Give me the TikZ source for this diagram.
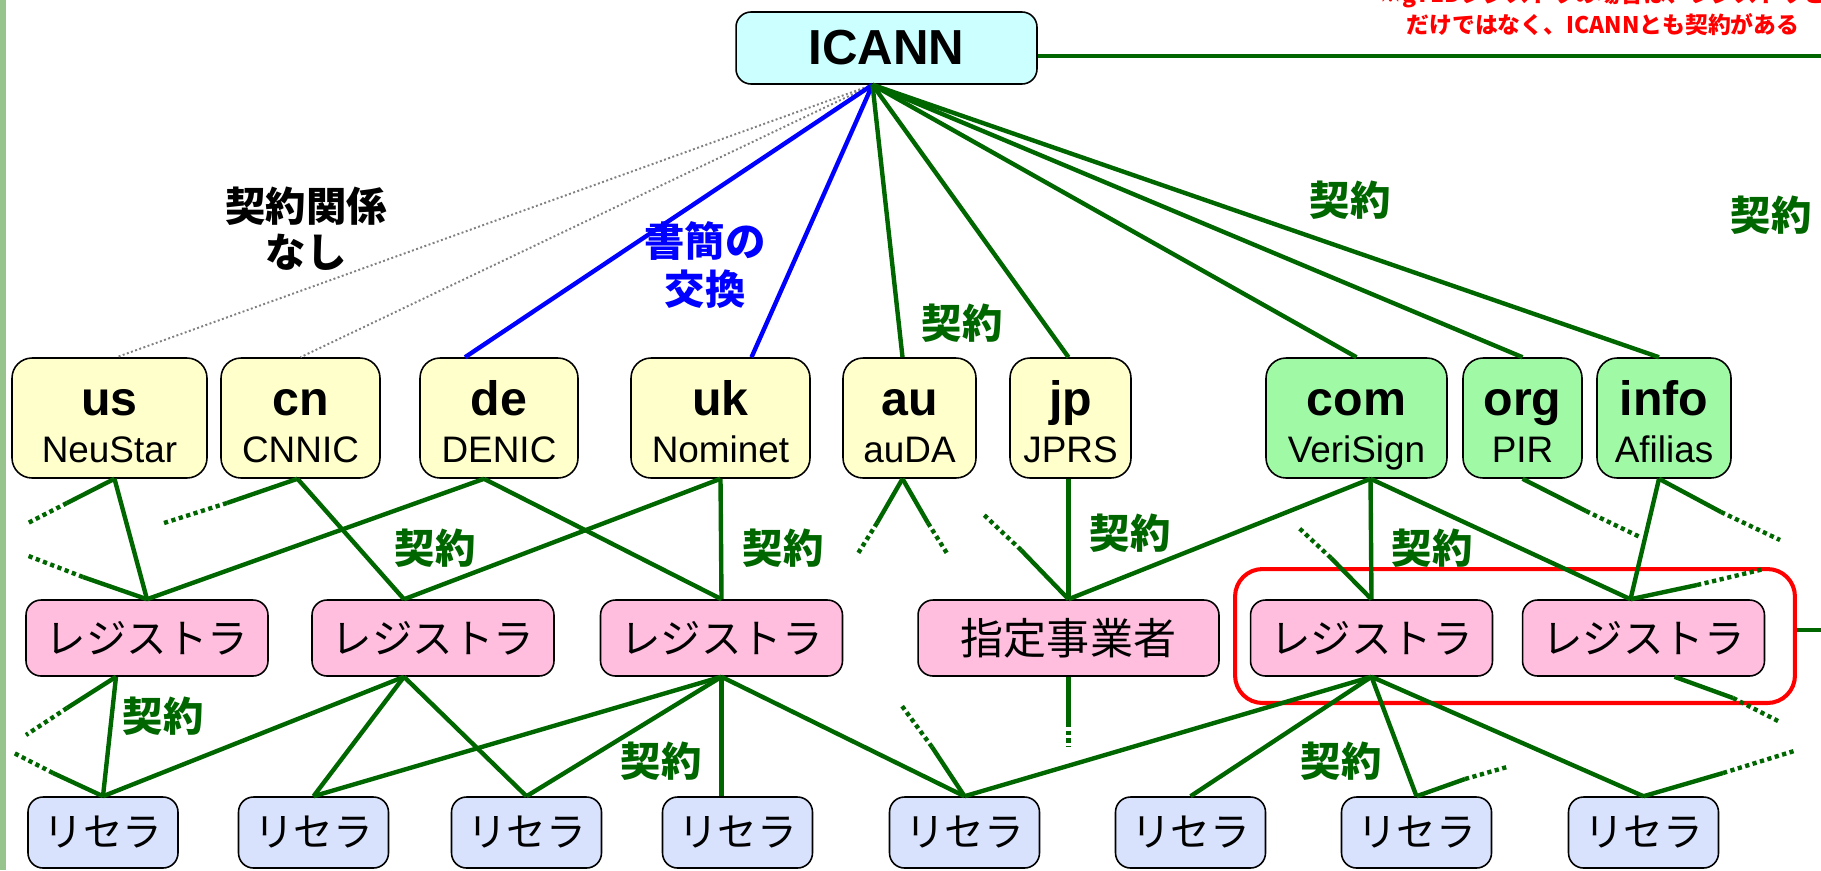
\documentclass[tikz,border=0pt]{standalone}
\usepackage{fontspec}
\setmainfont{Liberation Sans}
\newfontfamily\jp{Noto Sans CJK JP}
\usetikzlibrary{calc}
\definecolor{dgreen}{RGB}{0,102,0}
\definecolor{icannfill}{RGB}{204,255,255}
\definecolor{ccfill}{RGB}{255,255,204}
\definecolor{gfill}{RGB}{160,250,165}
\definecolor{regfill}{RGB}{255,190,222}
\definecolor{resfill}{RGB}{216,226,252}
\definecolor{stripe}{RGB}{150,196,140}
\newcommand\stub[3]{\draw[gline] (#1) -- (#2); \draw[gdot] (#2) -- (#3);}
\begin{document}
\begin{tikzpicture}[x=0.02cm, y=-0.02cm,
  box/.style={draw=black, line width=0.9pt, inner sep=0pt, rounded corners=0.3cm},
  tldbox/.style={box, rounded corners=0.4cm, minimum height=2.4cm},
  regbox/.style={box, fill=regfill, minimum height=1.52cm, minimum width=4.84cm, font=\jp\fontsize{23}{27}\selectfont},
  resbox/.style={box, fill=resfill, minimum height=1.42cm, minimum width=3.0cm, font=\jp\fontsize{22.5}{26}\selectfont},
  tldname/.style={font=\bfseries\fontsize{27.5}{30}\selectfont, inner sep=0pt, anchor=base},
  tldsub/.style={font=\fontsize{21}{24}\selectfont, inner sep=0pt, anchor=base},
  gline/.style={draw=dgreen, line width=2.5pt},
  gdot/.style={draw=dgreen, line width=2.5pt, dash pattern=on 2.4pt off 2pt},
  bline/.style={draw=blue, line width=2.5pt},
  nline/.style={draw=gray, line width=1.1pt, dash pattern=on 1.1pt off 1.4pt},
  lbl/.style={font=\jp\bfseries\fontsize{23}{27}\selectfont, text=dgreen, inner sep=0pt, align=center},
]
\useasboundingbox (0,0) rectangle (1821,870);
\fill[stripe] (0,0) rectangle (6,870);

% red note
\node[font=\jp\bfseries\fontsize{13}{15}\selectfont, text=red, inner sep=0pt] (note1) at (1603,-5) {※gTLDレジストラの場合は、レジストリと};
\node[font=\jp\bfseries\fontsize{13}{15}\selectfont, text=red, inner sep=0pt] (note2) at (1603,25) {だけではなく、ICANNとも契約がある};

% ICANN
\node[box, fill=icannfill, minimum width=6.02cm, minimum height=1.44cm, font=\bfseries\fontsize{28}{30}\selectfont] (icann) at (886.5,48) {ICANN};

% red box
\node[draw=red, line width=2.3pt, rounded corners=0.55cm, minimum width=11.2cm, minimum height=2.68cm, inner sep=0pt] (redbox) at (1515,636) {};

% TLD registries
\foreach \n/\cx/\w/\a/\b/\f in {us/109.5/3.9/us/NeuStar/ccfill, cn/300.5/3.18/cn/CNNIC/ccfill, de/499/3.16/de/DENIC/ccfill, uk/720.5/3.58/uk/Nominet/ccfill, au/909.5/2.66/au/auDA/ccfill, jp/1070.5/2.42/jp/JPRS/ccfill, com/1356.5/3.62/com/VeriSign/gfill, org/1522.5/2.38/org/PIR/gfill, info/1664/2.68/info/Afilias/gfill}
{
  \node[tldbox, fill=\f, minimum width=\w cm] (\n) at (\cx,418) {};
  \node[tldname] (\n-a) at (\cx,415) {\a};
  \node[tldsub] (\n-b) at (\cx,462) {\b};
}

% registrars
\node[regbox] (r1) at (147,638) {レジストラ};
\node[regbox] (r2) at (433,638) {レジストラ};
\node[regbox] (r3) at (721.5,638) {レジストラ};
\node[regbox, minimum width=6.02cm, font=\jp\fontsize{24.5}{28}\selectfont] (sj) at (1068.5,638) {指定事業者};
\node[regbox] (r4) at (1371.5,638) {レジストラ};
\node[regbox] (r5) at (1643.5,638) {レジストラ};

% resellers
\foreach \n/\cx in {l1/103, l2/313.5, l3/526.5, l4/737.5, l5/964.5, l6/1190.5, l7/1416.5, l8/1643.5}
  \node[resbox] (\n) at (\cx,832.5) {リセラ};

% connection points
\coordinate (apex) at ($(icann.south)+(-14,0)$);
\coordinate (usT) at ($(us.north)+(7,0)$);
\coordinate (usB) at ($(us.south)+(5,0)$);
\coordinate (cnT) at (cn.north);
\coordinate (cnB) at ($(cn.south)+(-3,0)$);
\coordinate (deT) at ($(de.north)+(-34,0)$);
\coordinate (deB) at ($(de.south)+(-15,0)$);
\coordinate (ukT) at ($(uk.north)+(31,0)$);
\coordinate (ukB) at (uk.south);
\coordinate (auT) at ($(au.north)+(-7,0)$);
\coordinate (auB) at ($(au.south)+(-7,0)$);
\coordinate (jpT) at ($(jp.north)+(-2,0)$);
\coordinate (jpB) at ($(jp.south)+(-2,0)$);
\coordinate (comT) at (com.north);
\coordinate (comB) at ($(com.south)+(14,0)$);
\coordinate (orgT) at (org.north);
\coordinate (orgB) at (org.south);
\coordinate (infoT) at ($(info.north)+(-5,0)$);
\coordinate (infoB) at ($(info.south)+(-5,0)$);
\coordinate (r1T) at (r1.north);
\coordinate (r1B) at ($(r1.south)+(-31,0)$);
\coordinate (r2T) at ($(r2.north)+(-29,0)$);
\coordinate (r2B) at ($(r2.south)+(-29,0)$);
\coordinate (r3T) at (r3.north);
\coordinate (r3B) at (r3.south);
\coordinate (sjT) at (sj.north);
\coordinate (sjB) at (sj.south);
\coordinate (r4T) at (r4.north);
\coordinate (r4B) at (r4.south);
\coordinate (r5T) at ($(r5.north)+(-13,0)$);
\coordinate (r5B) at ($(r5.south)+(31,0)$);
\coordinate (l4T) at ($(l4.north)+(-16,0)$);

% ICANN links
\draw[nline] (apex) -- (usT);
\draw[nline] (apex) -- (cnT);
\draw[bline] (apex) -- (deT);
\draw[bline] (apex) -- (ukT);
\foreach \t in {auT, jpT, comT, orgT, infoT} \draw[gline] (apex) -- (\t);
\coordinate (edgeA) at (1830,56);
\draw[gline] ($(icann.east)+(0,8)$) -- (edgeA);
\coordinate (edgeB) at (1830,630);
\draw[gline] ($(redbox.east)+(0,-6)$) -- (edgeB);

% registry -> registrar
\draw[gline] (usB) -- (r1T);
\draw[gline] (deB) -- (r1T);
\draw[gline] (cnB) -- (r2T);
\draw[gline] (ukB) -- (r2T);
\draw[gline] (deB) -- (r3T);
\draw[gline] (ukB) -- (r3T);
\draw[gline] (jpB) -- (sjT);
\draw[gline] (comB) -- (sjT);
\draw[gline] (comB) -- (r4T);
\draw[gline] (comB) -- (r5T);
\draw[gline] (infoB) -- (r5T);

% registrar -> reseller
\draw[gline] (r1B) -- (l1.north);
\draw[gline] (r2B) -- (l1.north);
\draw[gline] (r2B) -- (l2.north);
\draw[gline] (r2B) -- (l3.north);
\draw[gline] (r3B) -- (l2.north);
\draw[gline] (r3B) -- (l3.north);
\draw[gline] (r3B) -- (l4T);
\draw[gline] (r3B) -- (l5.north);
\draw[gline] (r4B) -- (l5.north);
\draw[gline] (r4B) -- (l6.north);
\draw[gline] (r4B) -- (l7.north);
\draw[gline] (r4B) -- (l8.north);

% stubs (solid then dotted)
\coordinate (s1m) at (67,503);   \coordinate (s1e) at (28,523);
\coordinate (s2m) at (83,577);   \coordinate (s2e) at (26,555);
\coordinate (s3m) at (227,503);  \coordinate (s3e) at (164,523);
\coordinate (s4m) at (877,523);  \coordinate (s4e) at (857,555);
\coordinate (s5m) at (928,523);  \coordinate (s5e) at (948,555);
\coordinate (s6m) at (1021,550); \coordinate (s6e) at (982,513);
\coordinate (s7m) at (1331,558); \coordinate (s7e) at (1299,528);
\coordinate (s8m) at (1586,511); \coordinate (s8e) at (1640,537);
\coordinate (s9m) at (1721,512); \coordinate (s9e) at (1780,540);
\coordinate (s10m) at (1697,585); \coordinate (s10e) at (1764,569);
\coordinate (s11m) at (1733,698); \coordinate (s11e) at (1780,722);
\coordinate (s12m) at (67,708);  \coordinate (s12e) at (26,735);
\coordinate (s13m) at (53,773);  \coordinate (s13e) at (14,753);
\coordinate (s14m) at (932,747); \coordinate (s14e) at (902,706);
\coordinate (s15m) at (1068.5,723); \coordinate (s15e) at (1068.5,747);
\coordinate (s16m) at (1465,779); \coordinate (s16e) at (1507,767);
\coordinate (s17m) at (1723,773); \coordinate (s17e) at (1794,751);
\stub{usB}{s1m}{s1e}
\stub{r1T}{s2m}{s2e}
\stub{cnB}{s3m}{s3e}
\stub{auB}{s4m}{s4e}
\stub{auB}{s5m}{s5e}
\stub{sjT}{s6m}{s6e}
\stub{r4T}{s7m}{s7e}
\stub{orgB}{s8m}{s8e}
\stub{infoB}{s9m}{s9e}
\stub{r5T}{s10m}{s10e}
\stub{r5B}{s11m}{s11e}
\stub{r1B}{s12m}{s12e}
\stub{l1.north}{s13m}{s13e}
\stub{l5.north}{s14m}{s14e}
\stub{sjB}{s15m}{s15e}
\stub{l7.north}{s16m}{s16e}
\stub{l8.north}{s17m}{s17e}

% labels
\node[lbl, text=black, font=\jp\bfseries\fontsize{23}{26}\selectfont] (nokei) at (306,229) {契約関係\\なし};
\node[lbl, text=blue, font=\jp\bfseries\fontsize{23}{27}\selectfont] (shokan) at (705,265) {書簡の\\交換};
\node[lbl] (k1) at (962,323) {契約};
\node[lbl] (k2) at (1350,200) {契約};
\node[lbl] (k3) at (1771,215) {契約};
\node[lbl] (k4) at (435,548) {契約};
\node[lbl] (k5) at (783,548) {契約};
\node[lbl] (k6) at (1130,533) {契約};
\node[lbl] (k7) at (1432,548) {契約};
\node[lbl] (k8) at (163,716) {契約};
\node[lbl] (k9) at (661,761) {契約};
\node[lbl] (k10) at (1341,761) {契約};
\end{tikzpicture}
\end{document}
